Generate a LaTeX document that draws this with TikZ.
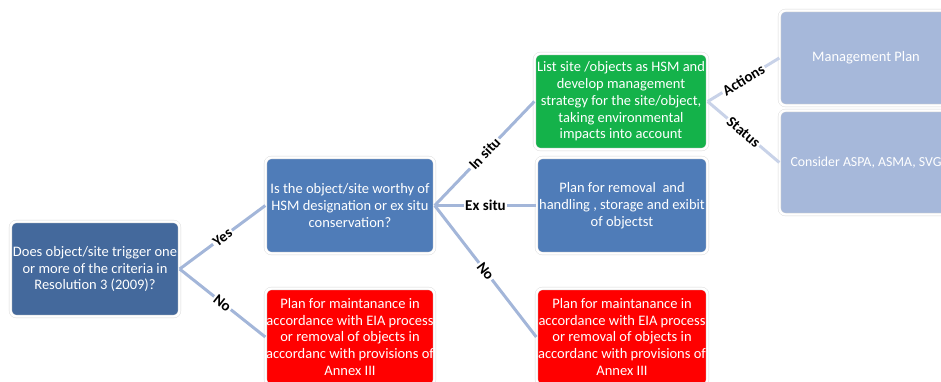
\documentclass[tikz,border=0pt]{standalone}
\usepackage{fontspec}
\setmainfont{Carlito}
\definecolor{rootblue}{HTML}{44699C}
\definecolor{midblue}{HTML}{4F7CB8}
\definecolor{boxgreen}{HTML}{14B24A}
\definecolor{boxred}{HTML}{FF0000}
\definecolor{paleblue}{HTML}{A6B8DA}
\definecolor{linkblue}{HTML}{A3B6D9}
\definecolor{palelink}{HTML}{C8D2E8}
\tikzset{
  box/.style={rounded corners=6pt, draw=black!15, double=white, double distance=2.4pt,
    line width=0.4pt, text=white, align=center, inner sep=0pt,
    font=\fontsize{14.5}{16.8}\selectfont},
  link/.style={draw=linkblue, line width=3pt},
  palink/.style={draw=palelink, line width=3pt},
  lab/.style={fill=white, inner sep=1.5pt, font=\fontsize{15}{17}\selectfont\bfseries, text=black, midway, sloped}
}
\begin{document}
\begin{tikzpicture}[x=1pt,y=-1pt]
\useasboundingbox (0,0) rectangle (941,381);
\node[box, fill=rootblue, minimum width=169pt, minimum height=95pt] (A) at (95,269)
  {Does object/site trigger one\\or more of the criteria in\\Resolution 3 (2009)?};
\node[box, fill=midblue, minimum width=169pt, minimum height=96pt] (B) at (350,205.5)
  {Is the object/site worthy of\\HSM designation or ex situ\\conservation?};
\node[box, fill=boxred, minimum width=169pt, minimum height=97pt] (C) at (350,337)
  {Plan for maintanance in\\accordance with EIA process\\or removal of objects in\\accordanc with provisions of\\Annex III};
\node[box, fill=boxgreen, minimum width=173pt, minimum height=96pt] (G) at (621,101.5)
  {List site /objects as HSM and\\develop management\\strategy for the site/object,\\taking environmental\\impacts into account};
\node[box, fill=midblue, minimum width=171pt, minimum height=96pt] (E) at (622,205.5)
  {Plan for removal \ and\\handling , storage and exibit\\of objectst};
\node[box, fill=boxred, minimum width=171pt, minimum height=97pt] (R) at (622,337)
  {Plan for maintanance in\\accordance with EIA process\\or removal of objects in\\accordanc with provisions of\\Annex III};
\node[box, fill=paleblue, minimum width=173pt, minimum height=95pt] (M) at (866,58)
  {Management Plan};
\node[box, fill=paleblue, minimum width=173pt, minimum height=104pt, font=\fontsize{13.8}{16.8}\selectfont] (S) at (866,162.5)
  {Consider ASPA, ASMA, SVG};
\draw[link] (A.east) -- (B.west) node[lab] {Yes};
\draw[link] (A.east) -- (C.west) node[lab] {No};
\draw[link] (B.east) -- (G.west) node[lab] {In situ};
\draw[link] (B.east) -- (E.west) node[lab] {Ex situ};
\draw[link] (B.east) -- (R.west) node[lab] {No};
\draw[palink] (G.east) -- (M.west) node[lab] {Actions};
\draw[palink] (G.east) -- (S.west) node[lab] {Status};
\end{tikzpicture}
\end{document}
